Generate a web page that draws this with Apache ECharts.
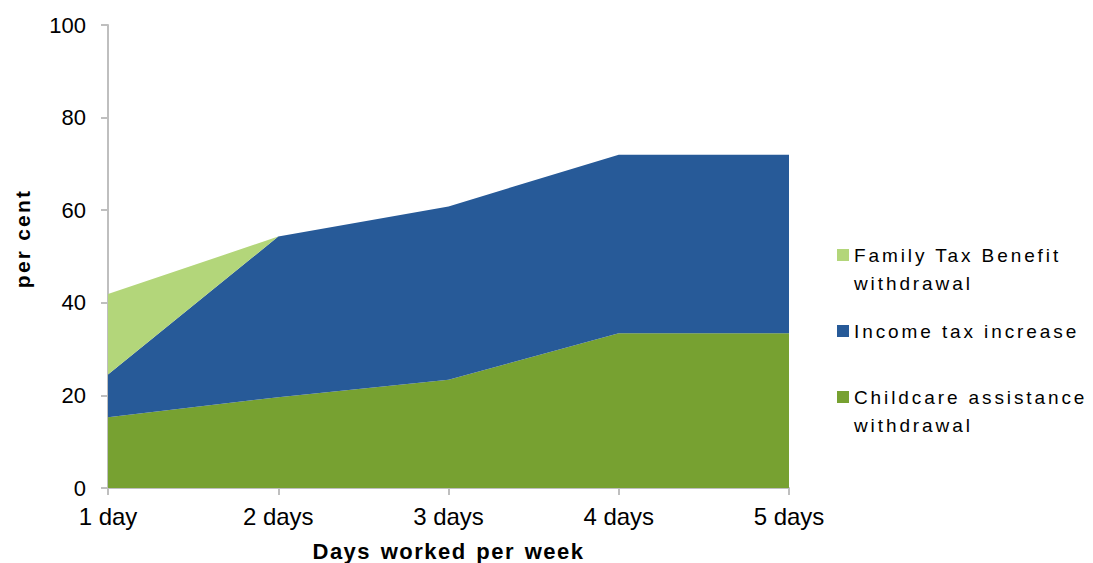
<!DOCTYPE html>
<html>
<head>
<meta charset="utf-8">
<script src="https://cdn.jsdelivr.net/npm/echarts@6/dist/echarts.min.js"></script>
<style>
html,body{margin:0;padding:0;background:#fff;overflow:hidden;}
#chart{width:1093px;height:563px;}
/* wide tracking of the original's legend and axis titles */
#chart text[style*="19px"]{letter-spacing:2.9px;}
#chart text[style*="21px"]{letter-spacing:2.2px;}
#chart text[style*="bold"][style*="22px"]{letter-spacing:1.5px;word-spacing:2px;}
</style>
</head>
<body>
<div id="chart"></div>
<script>
const categories = ['1 day', '2 days', '3 days', '4 days', '5 days'];
const childcare = [15.3, 19.6, 23.4, 33.4, 33.4];
const incomeTax = [9.2, 34.7, 37.4, 38.6, 38.6];
const familyTax = [17.4, 0, 0, 0, 0];
const yTicks = [0, 20, 40, 60, 80, 100];

const FONT = '"Liberation Sans", Arial, sans-serif';
const LH = 28;

const chart = echarts.init(document.getElementById('chart'), null, {renderer: 'svg'});

function legendFor(name, left, top) {
  return {
    data: [name],
    left: left, top: top, orient: 'vertical', padding: 0,
    icon: 'rect', itemWidth: 12, itemHeight: 12,
    selectedMode: false,
    formatter: function (n) {
      if (n === 'Family Tax Benefit withdrawal') return '\nFamily Tax Benefit\nwithdrawal';
      if (n === 'Childcare assistance withdrawal') return '\nChildcare assistance\nwithdrawal';
      return n;
    },
    textStyle: {fontFamily: FONT, fontSize: 19, color: '#000', lineHeight: LH}
  };
}

const option = {
  animation: false,
  backgroundColor: '#fff',
  grid: {left: 108, right: 304, top: 25, bottom: 75, containLabel: false, outerBoundsMode: 'none'},
  legend: [
    legendFor('Family Tax Benefit withdrawal', 837, 213),
    legendFor('Income tax increase', 837, 317),
    legendFor('Childcare assistance withdrawal', 837, 355)
  ],
  xAxis: {
    type: 'category',
    data: categories,
    boundaryGap: false,
    axisLine: {lineStyle: {color: '#bfbfbf', width: 2}},
    axisTick: {show: true, alignWithLabel: true, length: 7, lineStyle: {color: '#bfbfbf', width: 2}},
    axisLabel: {fontFamily: FONT, fontSize: 24, color: '#000', margin: 16},
    name: 'Days worked per week',
    nameLocation: 'middle',
    nameGap: 52,
    nameTextStyle: {fontFamily: FONT, fontSize: 22, lineHeight: 22, fontWeight: 'bold', color: '#000'},
    splitLine: {show: false}
  },
  yAxis: {
    type: 'value',
    min: 0, max: 100, interval: 20,
    axisLine: {show: true, lineStyle: {color: '#bfbfbf', width: 2}},
    axisTick: {show: true, length: 7, lineStyle: {color: '#bfbfbf', width: 2}},
    axisLabel: {fontFamily: FONT, fontSize: 22, color: '#000', margin: 22,
      formatter: function (v) { return yTicks.indexOf(v) >= 0 ? String(v) : ''; }},
    splitLine: {show: false},
    name: 'per cent',
    nameLocation: 'middle',
    nameGap: 75,
    nameTextStyle: {fontFamily: FONT, fontSize: 21, fontWeight: 'bold', color: '#000', padding: [0, 0, 0, 36]}
  },
  series: [
    {
      name: 'Childcare assistance withdrawal', type: 'line', stack: 'total',
      data: childcare, symbol: 'none', color: '#77A131',
      lineStyle: {width: 0}, areaStyle: {color: '#77A131', opacity: 1}
    },
    {
      name: 'Income tax increase', type: 'line', stack: 'total',
      data: incomeTax, symbol: 'none', color: '#275A98',
      lineStyle: {width: 0}, areaStyle: {color: '#275A98', opacity: 1}
    },
    {
      name: 'Family Tax Benefit withdrawal', type: 'line', stack: 'total',
      data: familyTax, symbol: 'none', color: '#B3D67A',
      lineStyle: {width: 0}, areaStyle: {color: '#B3D67A', opacity: 1}
    }
  ]
};
chart.setOption(option);
</script>
</body>
</html>
